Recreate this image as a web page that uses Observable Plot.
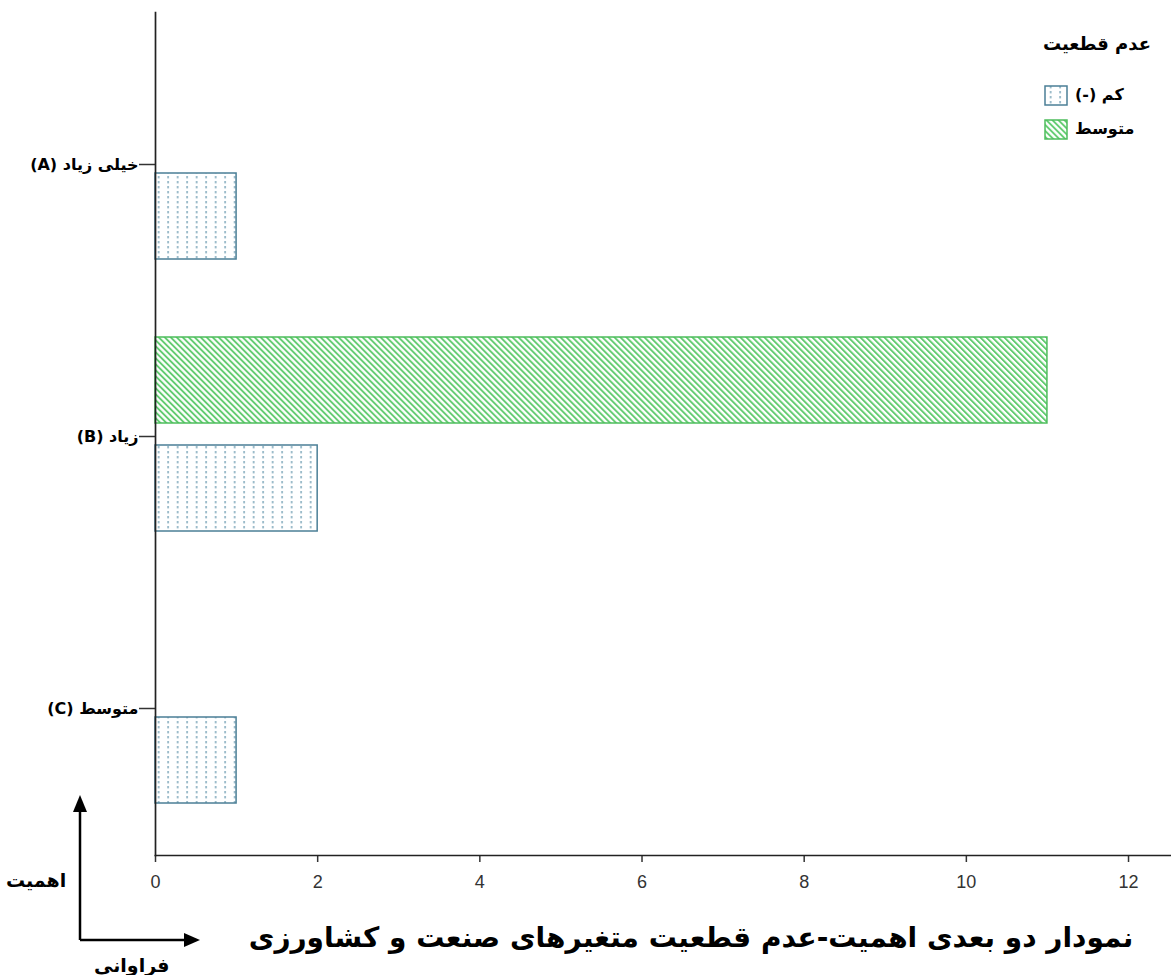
<!DOCTYPE html>
<html><head><meta charset="utf-8">
<script src="https://cdn.jsdelivr.net/npm/d3@7"></script>
<script src="https://cdn.jsdelivr.net/npm/@observablehq/plot@0.6"></script>
<style>
body{margin:0;background:#fff;}
#wrap{position:relative;width:1171px;height:975px;overflow:hidden;background:#fff;}
#wrap svg.plot{position:absolute;left:0;top:0;}
.fa{font-family:"DejaVu Sans",sans-serif;font-weight:bold;color:#000;position:absolute;white-space:nowrap;}
</style></head><body><div id="wrap"></div>
<script>
// ---- data ----
const categories = ["خیلی زیاد (A)", "زیاد (B)", "متوسط (C)"];
const seriesNames = ["کم (-)", "متوسط"];
const lowValues = [1, 2, 1];
const mediumValues = [0, 11, 0];
const xTicks = [0, 2, 4, 6, 8, 10, 12];
const legendTitle = "عدم قطعیت";
const chartTitle = "نمودار دو بعدی اهمیت-عدم قطعیت متغیرهای صنعت و کشاورزی";
const yArrowLabel = "اهمیت";
const xArrowLabel = "فراوانی";

const lowData = categories.map((c, i) => ({category: c, series: seriesNames[0], value: lowValues[i]})).filter(d => d.value > 0);
const medData = categories.map((c, i) => ({category: c, series: seriesNames[1], value: mediumValues[i]})).filter(d => d.value > 0);

const blueStroke = "#4b7f96", blueDot = "#6f9db2";
const greenStroke = "#4dbd5c", greenHatch = "#5fcb6e";
const faFont = "'DejaVu Sans', sans-serif";

const chart = Plot.plot({
  width: 1171, height: 975,
  marginTop: 12, marginBottom: 120, marginLeft: 155, marginRight: 0,
  style: {background: "transparent", fontFamily: "'Liberation Sans', Arial, sans-serif"},
  x: {domain: [0, 12.53], label: null},
  y: {domain: categories, label: null, paddingInner: 0.2868, paddingOuter: 0.193, align: 0.5},
  marks: [
    Plot.barX(medData, {x: "value", y: "category", fill: "url(#hatchGreen)", stroke: greenStroke, strokeWidth: 1.5, insetBottom: 108}),
    Plot.barX(lowData, {x: "value", y: "category", fill: "url(#dotsBlue)", stroke: blueStroke, strokeWidth: 1.5, insetTop: 108}),
    Plot.axisX({ticks: xTicks, tickSize: 7, tickPadding: 13, fontSize: 18, color: "#333", strokeWidth: 1.5, label: null}),
    Plot.axisY({tickSize: 16, tickPadding: 1, fontSize: 16, fontWeight: "bold", fontFamily: faFont, fill: "#000", stroke: "#333", strokeWidth: 1.5, label: null,
      dy: 2, tickFormat: d => "\u202B" + d + "\u202C"}),
    Plot.frame({anchor: "left", stroke: "#222", strokeWidth: 1.7}),
    Plot.frame({anchor: "bottom", stroke: "#222", strokeWidth: 1.7})
  ]
});
chart.classList.add("plot");

function addPatterns(svgSel) {
  const defs = svgSel.insert("defs", ":first-child");
  const p1 = defs.append("pattern").attr("id", "dotsBlue").attr("patternUnits", "userSpaceOnUse")
    .attr("width", 9.5).attr("height", 5);
  p1.append("rect").attr("width", 9.5).attr("height", 5).attr("fill", "#fff");
  p1.append("rect").attr("x", 6).attr("y", 1).attr("width", 1.3).attr("height", 2.4).attr("fill", blueDot);
  const p2 = defs.append("pattern").attr("id", "hatchGreen").attr("patternUnits", "userSpaceOnUse")
    .attr("width", 4.24).attr("height", 10).attr("patternTransform", "rotate(-45)");
  p2.append("rect").attr("width", 4.24).attr("height", 10).attr("fill", "#fff");
  p2.append("rect").attr("x", 0).attr("width", 1.9).attr("height", 10).attr("fill", greenHatch);
}
addPatterns(d3.select(chart));

const wrap = document.getElementById("wrap");
wrap.appendChild(chart);

// legend
const lt = document.createElement("div");
lt.className = "fa"; lt.dir = "rtl";
lt.style.cssText = "right:20px;top:33px;font-size:18px;";
lt.textContent = legendTitle;
wrap.appendChild(lt);
const legItems = [
  {name: seriesNames[0], fill: "url(#dotsBlue)", stroke: blueStroke, top: 86},
  {name: seriesNames[1], fill: "url(#hatchGreen)", stroke: greenStroke, top: 120}
];
legItems.forEach(it => {
  const s = d3.create("svg").attr("width", 26).attr("height", 22)
    .style("position", "absolute").style("left", "1044px").style("top", (it.top - 1) + "px");
  addPatterns(s);
  s.append("rect").attr("x", 1).attr("y", 1).attr("width", 22).attr("height", 19)
    .attr("fill", it.fill).attr("stroke", it.stroke).attr("stroke-width", 1.5);
  wrap.appendChild(s.node());
  const t = document.createElement("div");
  t.className = "fa"; t.dir = "rtl";
  t.style.cssText = `left:1075px;top:${it.top - 2}px;font-size:16px;line-height:22px;`;
  t.textContent = it.name;
  wrap.appendChild(t);
});

// arrows
const ar = d3.create("svg").attr("width", 220).attr("height", 200)
  .style("position", "absolute").style("left", "0px").style("top", "780px");
ar.append("path").attr("d", "M80,160 L80,26 M80,160 L188,160").attr("stroke", "#000").attr("stroke-width", 2.5).attr("fill", "none");
ar.append("path").attr("d", "M80,15 L73,32 L87,32 Z").attr("fill", "#000");
ar.append("path").attr("d", "M200,160 L184,153 L184,167 Z").attr("fill", "#000");
wrap.appendChild(ar.node());

const yl = document.createElement("div");
yl.className = "fa"; yl.dir = "rtl";
yl.style.cssText = "left:6px;top:869px;font-size:19px;";
yl.textContent = yArrowLabel;
wrap.appendChild(yl);
const xl = document.createElement("div");
xl.className = "fa"; xl.dir = "rtl";
xl.style.cssText = "left:94px;top:954px;font-size:19px;";
xl.textContent = xArrowLabel;
wrap.appendChild(xl);

const tt = document.createElement("div");
tt.className = "fa"; tt.dir = "rtl";
tt.style.cssText = "left:241px;width:900px;top:921px;font-size:28px;text-align:center;";
tt.textContent = chartTitle;
wrap.appendChild(tt);
</script></body></html>
